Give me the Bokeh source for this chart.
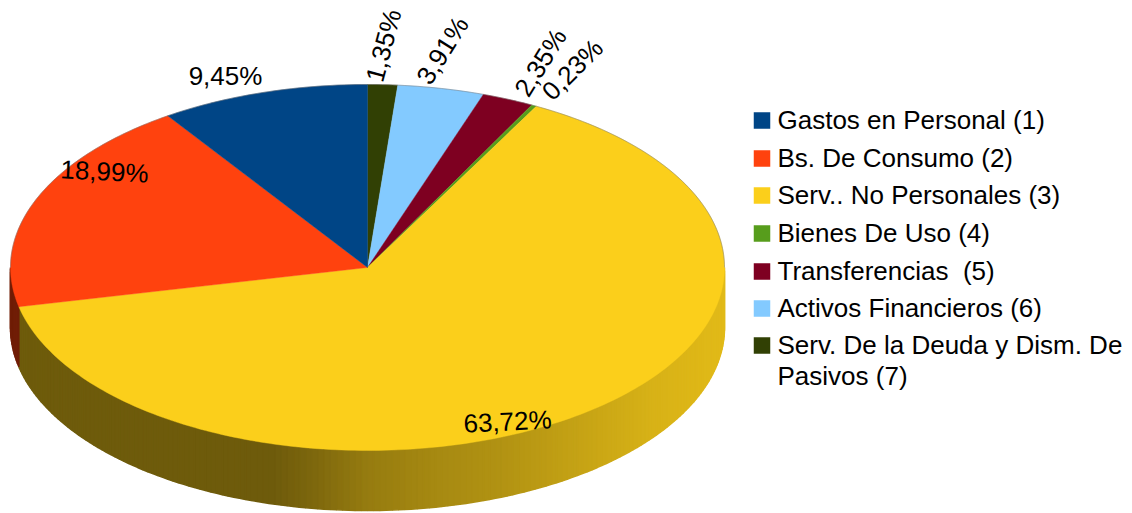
import math
from bokeh.plotting import figure
from bokeh.models import ColumnDataSource, Range1d
from bokeh.core.properties import value
from bokeh.embed import file_html
from bokeh.resources import INLINE

# Data, clockwise from 12 o'clock
categories = ["Serv. De la Deuda y Dism. De\nPasivos (7)", "Activos Financieros (6)", "Transferencias\u00a0 (5)",
              "Bienes De Uso (4)", "Serv.. No Personales (3)", "Bs. De Consumo (2)", "Gastos en Personal (1)"]
shares = [1.35, 3.91, 2.35, 0.23, 63.72, 18.99, 9.45]
share_labels = ["1,35%", "3,91%", "2,35%", "0,23%", "63,72%", "18,99%", "9,45%"]
colors = ["#314004", "#83caff", "#7e0021", "#579d1c", "#fbcf1b", "#ff420e", "#004586"]
legend_order = [6, 5, 4, 3, 2, 1, 0]

# Layout (page pixels)
CX, CY, RX, RY, DEPTH = 367.0, 267.0, 357.0, 183.0, 60.0
label_pos = [(383, 45, 75), (442, 50, 58), (540, 62, 58), (572, 69, 45), (507, 421, 3), (104, 171, -3), (225, 75, 0)]
legend_y = [119, 157, 194, 232, 270, 307, 344]
FS = "26px"

p = figure(width=1132, height=513, output_backend="svg", toolbar_location=None,
           x_range=Range1d(0, 1132), y_range=Range1d(513, 0), min_border=0)
p.axis.visible = False
p.grid.visible = False
p.outline_line_color = None


def pt(deg):
    t = math.radians(deg)
    return CX + RX * math.sin(t), CY - RY * math.cos(t)


def shade(x):
    stops = [(0, .44), (270, .44), (300, .48), (367, .60), (440, .67), (500, .71), (650, .86), (724, .90)]
    for (a, fa), (b, fb) in zip(stops, stops[1:]):
        if x <= b:
            return fa + (fb - fa) * (x - a) / (b - a)
    return stops[-1][1]


def mix(hex_color, f):
    r, g, b = (int(hex_color[i:i + 2], 16) for i in (1, 3, 5))
    return "#%02x%02x%02x" % (int(r * f), int(g * f), int(b * f))


edges = [0.0]
for s in shares:
    edges.append(edges[-1] + s * 3.6)

# side wall
wx, wy, wc = [], [], []
for i, col in enumerate(colors):
    a, b = max(edges[i], 90.0), min(edges[i + 1], 270.0)
    d = a
    while d < b:
        e = min(d + 1.0, b)
        x0, y0 = pt(d)
        x1, y1 = pt(e)
        wx.append([x0, x1, x1, x0])
        wy.append([y0, y1, y1 + DEPTH, y0 + DEPTH])
        wc.append(mix(col, shade((x0 + x1) / 2)))
        d = e
p.patches(wx, wy, fill_color=wc, line_color=wc, line_width=1.5)

# top surface
tx, ty = [], []
for i in range(len(shares)):
    n = max(2, int(edges[i + 1] - edges[i]) + 2)
    pts = [pt(edges[i] + (edges[i + 1] - edges[i]) * k / n) for k in range(n + 1)]
    tx.append([CX] + [q[0] for q in pts])
    ty.append([CY] + [q[1] for q in pts])
p.patches(tx, ty, fill_color=colors, line_color=colors, line_width=0.4)

# back rim
rim = [pt(d) for d in range(-90, 91)]
p.line([q[0] for q in rim], [q[1] for q in rim], line_color="#777777", line_width=0.7, line_alpha=0.7)

# value labels
src = ColumnDataSource(dict(x=[q[0] for q in label_pos], y=[q[1] for q in label_pos],
                            a=[math.radians(q[2]) for q in label_pos], t=share_labels))
p.text("x", "y", text="t", angle="a", source=src, text_align="center", text_baseline="middle",
       text_font=value("Liberation Sans"), text_font_size=FS, text_color="#000000")

# legend
ly, lt, lty = [], [], []
for k, i in enumerate(legend_order):
    parts = categories[i].split("\n")
    ly.append(legend_y[k])
    lt.append(parts[0])
    lty.append(legend_y[k])
    if len(parts) > 1:
        lt.append(parts[1])
        lty.append(legend_y[k] + 31)
p.rect([761.5] * len(ly), [y + 1 for y in ly], width=16.5, height=16.5, fill_color=[colors[i] for i in legend_order],
       line_color=None)
p.text([777] * len(lt), lty, text=lt, text_align="left", text_baseline="middle",
       text_font=value("Liberation Sans"), text_font_size=FS, text_color="#000000")

open("out.html", "w").write(file_html(p, INLINE))
